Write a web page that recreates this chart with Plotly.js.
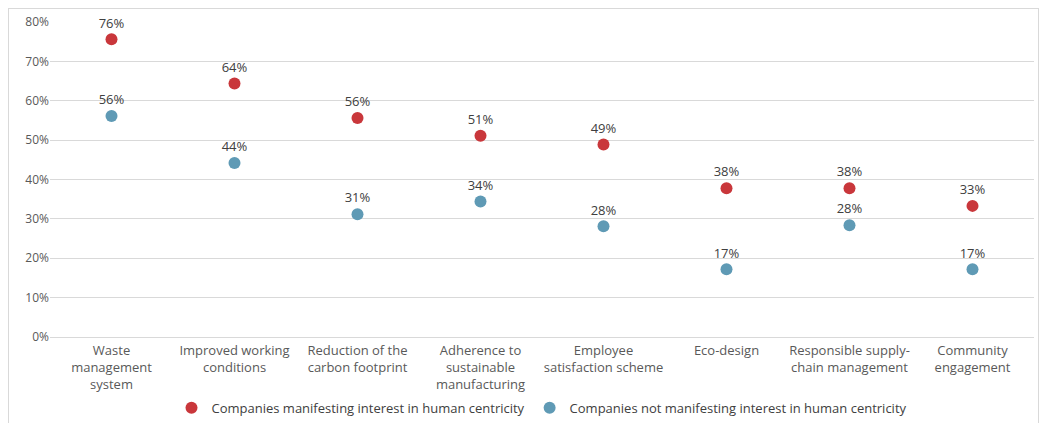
<!DOCTYPE html>
<html><head><meta charset="utf-8">
<script src="https://cdn.plot.ly/plotly-3.0.1.min.js"></script>
<style>
html,body{margin:0;padding:0;background:#fff;}
#frame{position:absolute;left:8px;top:8px;width:1031px;height:430px;border:1px solid #d9d9d9;box-sizing:border-box;}
#chart{position:absolute;left:0;top:0;width:1046px;height:423px;}
</style></head>
<body>
<div id="frame"></div>
<div id="chart"></div>
<script>
const categories = [
  "Waste<br>management<br>system",
  "Improved working<br>conditions",
  "Reduction of the<br>carbon footprint",
  "Adherence to<br>sustainable<br>manufacturing",
  "Employee<br>satisfaction scheme",
  "Eco-design",
  "Responsible supply-<br>chain management",
  "Community<br>engagement"
];
const interested = [75.6, 64.4, 55.6, 51.1, 48.9, 37.8, 37.8, 33.3];
const notInterested = [56.1, 44.2, 31.2, 34.4, 28.1, 17.2, 28.4, 17.2];
const seriesNames = ["Companies manifesting interest in human centricity", "Companies not manifesting interest in human centricity"];
const yTickVals = [0, 10, 20, 30, 40, 50, 60, 70, 80];
const yTickText = ["0%", "10%", "20%", "30%", "40%", "50%", "60%", "70%", "80%"];

const fontFam = "'Open Sans', Lato, sans-serif";
function trace(vals, name, color) {
  return {
    type: "scatter", mode: "markers+text", x: categories, y: vals, name: name,
    marker: {color: color, size: 12},
    text: vals.map(v => Math.round(v) + "%"),
    textposition: "top center",
    textfont: {family: fontFam, size: 13, color: "#404040"},
    cliponaxis: false,
    hoverinfo: "skip"
  };
}
const data = [trace(interested, seriesNames[0], "#C9373B"), trace(notInterested, seriesNames[1], "#5F9AB5")];
const layout = {
  width: 1046, height: 423,
  margin: {l: 50, r: 12, t: 22, b: 86, autoexpand: false},
  paper_bgcolor: "rgba(0,0,0,0)", plot_bgcolor: "rgba(0,0,0,0)",
  showlegend: true,
  legend: {orientation: "h", x: 0.5, xanchor: "center", y: -0.225, yanchor: "middle",
           font: {family: fontFam, size: 13, color: "#404040"}, tracegroupgap: 0},
  xaxis: {type: "category", range: [-0.5, categories.length - 0.5], showgrid: false, zeroline: false,
          showline: false, ticks: "", automargin: false, ticklabelstandoff: 4,
          tickfont: {family: fontFam, size: 13, color: "#595959"}, fixedrange: true},
  yaxis: {range: [0, 80], tickvals: yTickVals, ticktext: yTickText, showgrid: true,
          gridcolor: "#d9d9d9", gridwidth: 1, zeroline: true, zerolinecolor: "#d9d9d9", zerolinewidth: 1,
          showline: false, ticks: "", automargin: false,
          tickfont: {family: fontFam, size: 12, color: "#595959"}, fixedrange: true}
};
Plotly.newPlot("chart", data, layout, {displayModeBar: false, staticPlot: true});
</script>
</body></html>
